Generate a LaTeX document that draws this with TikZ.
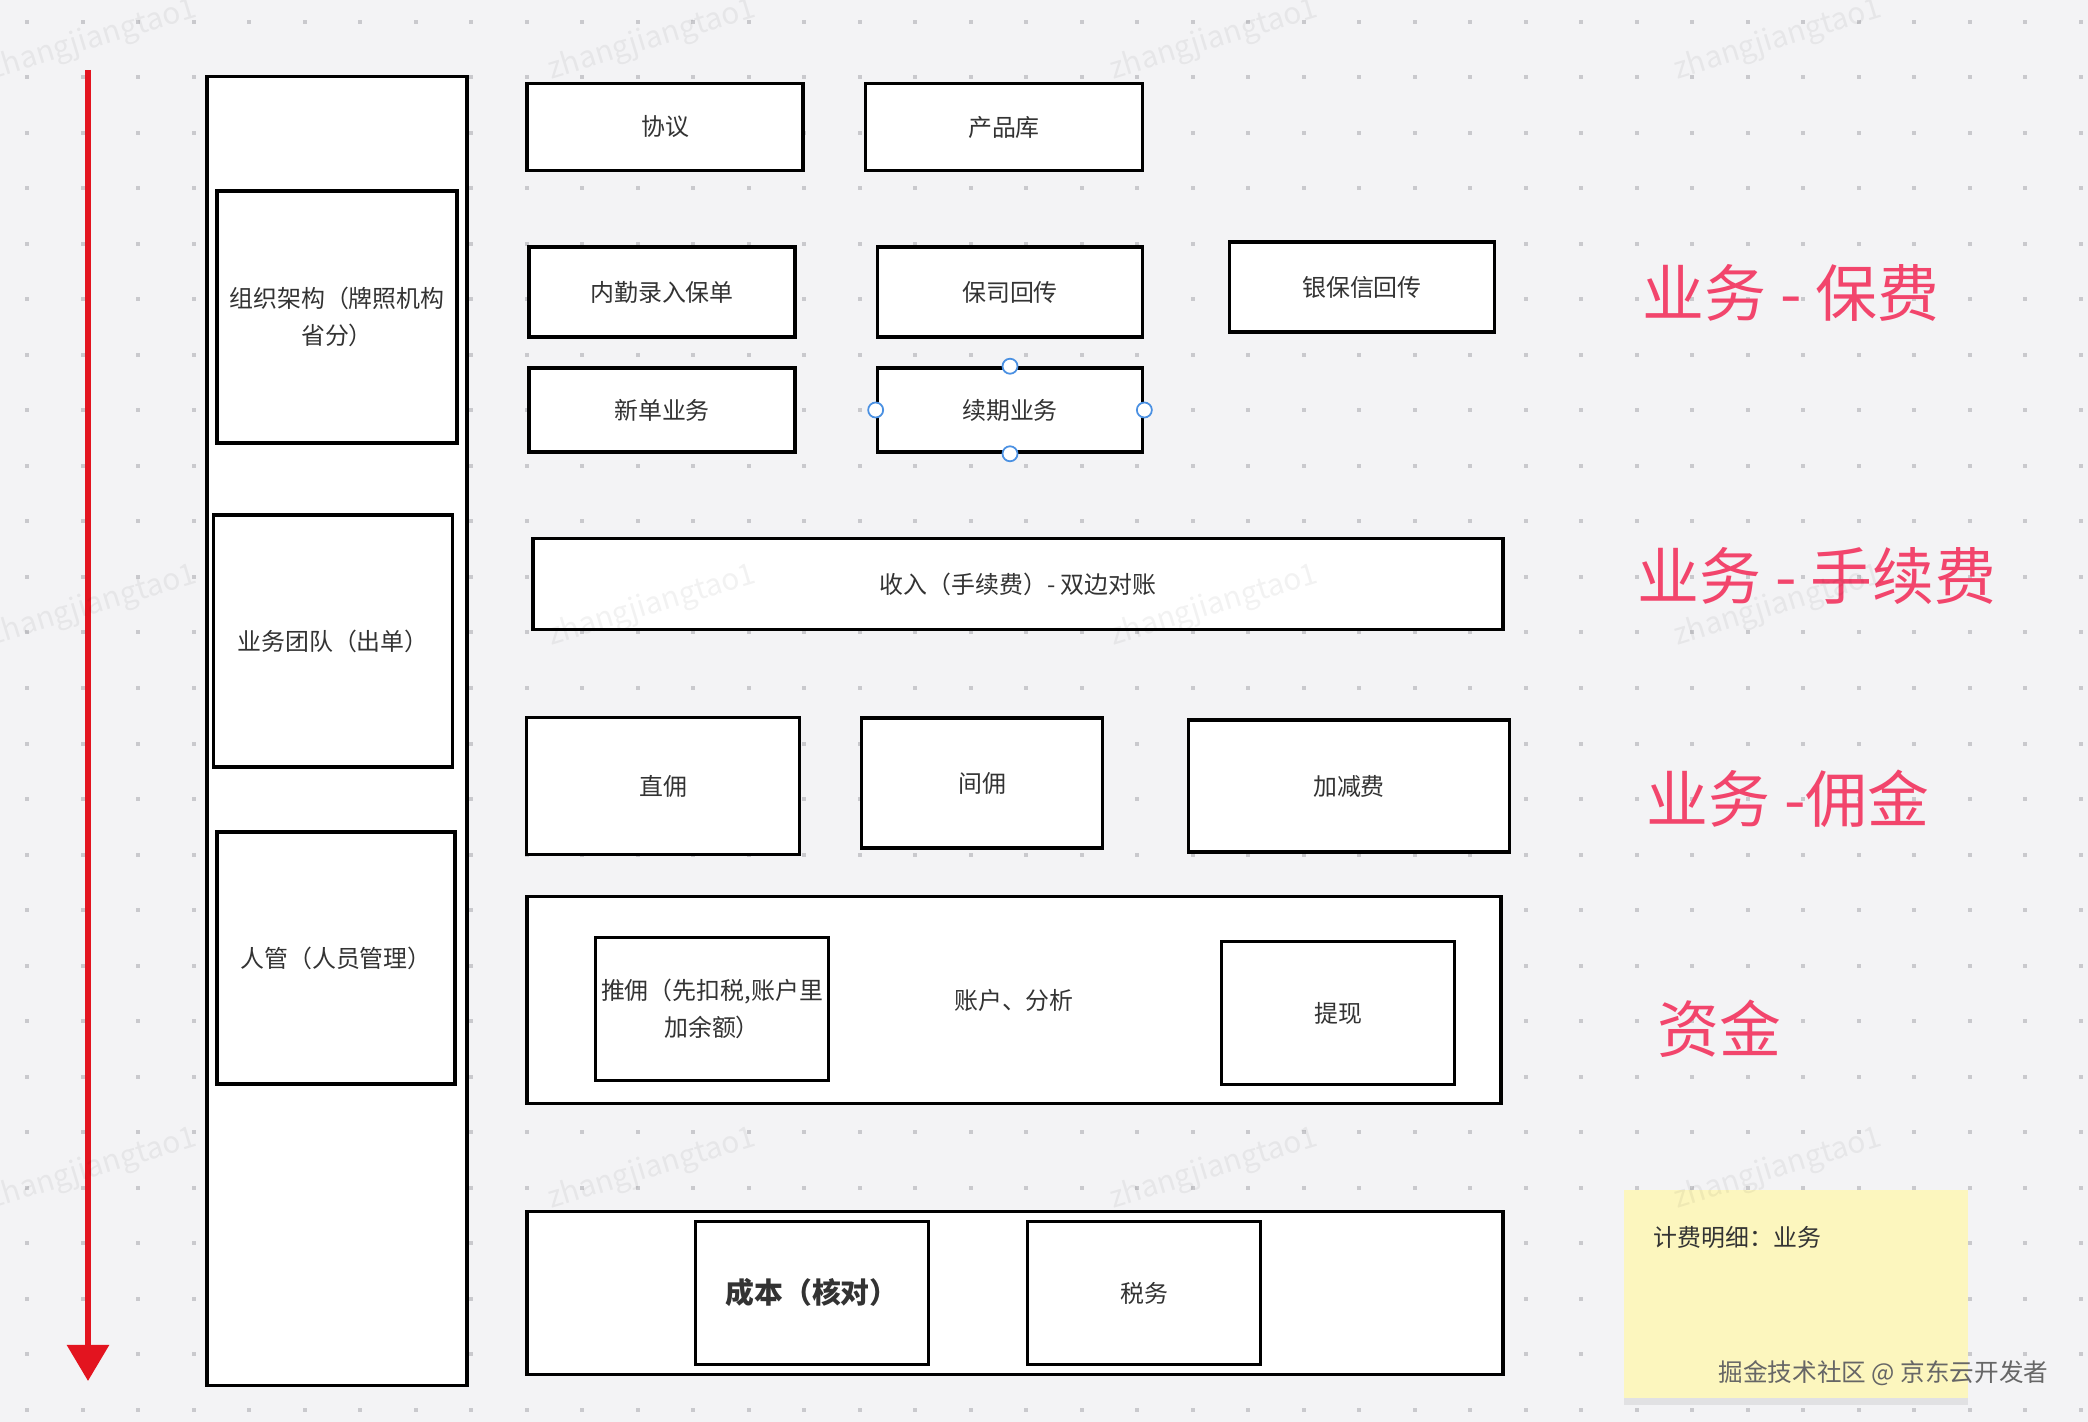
\documentclass[tikz,border=0pt]{standalone}
\usepackage{fontspec}
\setmainfont{Noto Sans CJK SC}
\usetikzlibrary{arrows.meta, shadows}

\definecolor{canvas}{HTML}{F3F3F5}
\definecolor{griddot}{HTML}{C9C9CD}
\definecolor{flowred}{HTML}{E3141F}
\definecolor{tagred}{HTML}{F2456C}
\definecolor{notefill}{HTML}{FCF6BE}
\definecolor{handleblue}{HTML}{4A90E2}

\begin{document}
\begin{tikzpicture}[x=0.01cm, y=-0.01cm,
  box/.style={draw, line width=1pt, fill=white, text=black!80, align=center, inner sep=0pt,
    font=\fontsize{6.8pt}{10.4pt}\selectfont},
  tag/.style={anchor=west, text=tagred, inner sep=0pt, font=\fontsize{17.6pt}{20pt}\selectfont},
  handle/.style={circle, draw=handleblue, fill=white, line width=0.5pt, minimum size=0.15cm, inner sep=0pt},
  note/.style={fill=notefill, inner sep=0pt, drop shadow={shadow xshift=0cm, shadow yshift=-0.07cm, opacity=0.15}},
  watermark/.style={text=black, opacity=0.05, rotate=17, font=\fontsize{8.5pt}{10pt}\selectfont}]
  % canvas and dot grid
  \fill[canvas] (0,0) rectangle (2088,1422);
  \useasboundingbox (0,0) rectangle (2088,1422);
  \foreach \i in {0,...,37}
    \foreach \j in {0,...,25}
      \fill[griddot] ({25+55.5*\i},{20+55.5*\j}) rectangle ++(4,4);

  % time line
  \coordinate (flow top) at (88,70);
  \coordinate (flow end) at (88,1381);
  \draw[flowred, line width=0.06cm, -{Triangle[width=0.41cm, length=0.36cm]}] (flow top) -- (flow end);

  % left column
  \node[box, minimum width=2.60cm, minimum height=13.08cm] (lane) at (337,731) {};
  \node[box, minimum width=2.40cm, minimum height=2.52cm] (org) at (337,317) {组织架构（牌照机构\\省分）};
  \node[box, minimum width=2.39cm, minimum height=2.52cm] (team) at (333,641) {业务团队（出单）};
  \node[box, minimum width=2.38cm, minimum height=2.52cm] (staff) at (336,958) {人管（人员管理）};

  % premium
  \node[box, minimum width=2.76cm, minimum height=0.87cm] (protocol) at (665,127) {协议};
  \node[box, minimum width=2.77cm, minimum height=0.87cm] (product) at (1004,127) {产品库};
  \node[box, minimum width=2.66cm, minimum height=0.90cm] (entry) at (662,292) {内勤录入保单};
  \node[box, minimum width=2.65cm, minimum height=0.90cm] (insurer) at (1010,292) {保司回传};
  \node[box, minimum width=2.65cm, minimum height=0.90cm] (bank) at (1362,287) {银保信回传};
  \node[box, minimum width=2.66cm, minimum height=0.84cm] (newbiz) at (662,410) {新单业务};
  \node[box, minimum width=2.65cm, minimum height=0.84cm] (renew) at (1010,410) {续期业务};
  \foreach \side in {north,south,west,east}
    \node[handle] (renew-\side) at (renew.\side) {};

  % fees and commission
  \node[box, minimum width=9.69cm, minimum height=0.91cm] (income) at (1018,584) {收入（手续费）- 双边对账};
  \node[box, minimum width=2.73cm, minimum height=1.37cm] (direct) at (663,786) {直佣};
  \node[box, minimum width=2.41cm, minimum height=1.30cm] (indirect) at (982,783) {间佣};
  \node[box, minimum width=3.21cm, minimum height=1.32cm] (adjust) at (1349,786) {加减费};

  % funds
  \node[box, minimum width=9.73cm, minimum height=2.07cm] (account) at (1014,1000) {账户、分析};
  \node[box, minimum width=2.33cm, minimum height=1.43cm] (push) at (712,1009) {推佣（先扣税,账户里\\加余额）};
  \node[box, minimum width=2.33cm, minimum height=1.43cm] (withdraw) at (1338,1013) {提现};

  % cost
  \node[box, minimum width=9.75cm, minimum height=1.63cm] (costrow) at (1015,1293) {};
  \node[box, minimum width=2.33cm, minimum height=1.43cm, font=\fontsize{8.2pt}{10pt}\selectfont\bfseries] (cost) at (812,1293) {成本（核对）};
  \node[box, minimum width=2.33cm, minimum height=1.43cm] (tax) at (1144,1293) {税务};

  % layer titles
  \node[tag] (tag premium) at (1642,293) {业务 - 保费};
  \node[tag] (tag fee) at (1637,576) {业务 - 手续费};
  \node[tag] (tag commission) at (1646,799) {业务 -佣金};
  \node[tag] (tag funds) at (1657,1029) {资金};

  % sticky note
  \node[note, minimum width=3.44cm, minimum height=2.08cm] (sticky) at (1796,1294) {};
  \node[anchor=west, inner sep=0pt, text=black!80, font=\fontsize{6.8pt}{10pt}\selectfont] (sticky text) at (1653,1237) {计费明细：业务};
  \node[anchor=west, inner sep=0pt, text=black!60, font=\fontsize{7pt}{10pt}\selectfont] (credit) at (1718,1373) {掘金技术社区 @ 京东云开发者};

  % faint watermarks over everything
  \foreach \wx in {93,652,1214,1778}
    \foreach \wy in {40,606,1169}
      \node[watermark] (wm-\wx-\wy) at (\wx,\wy) {zhangjiangtao1};
\end{tikzpicture}
\end{document}
